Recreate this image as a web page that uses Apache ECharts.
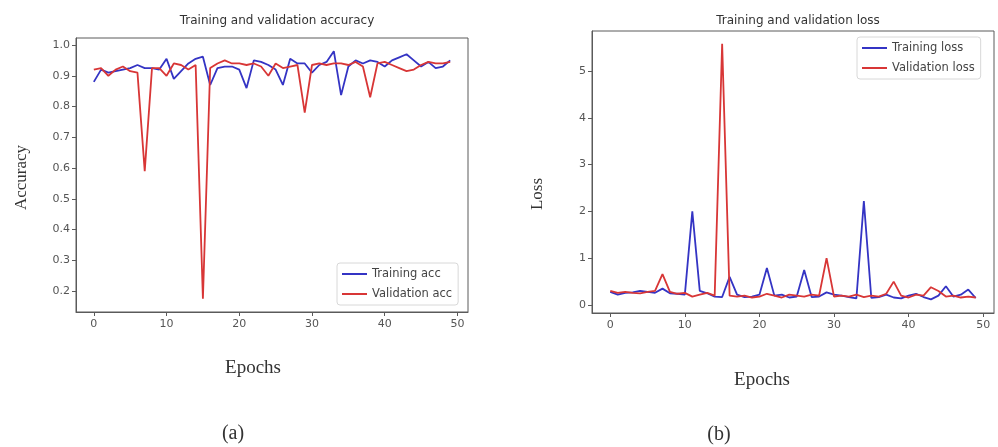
<!DOCTYPE html>
<html>
<head>
<meta charset="utf-8">
<script src="https://cdn.jsdelivr.net/npm/echarts@6/dist/echarts.min.js"></script>
<style>
  html, body { margin: 0; padding: 0; background: #fff; }
  #chart { width: 998px; height: 447px; }
</style>
</head>
<body>
<div id="chart"></div>
<script>
// epochs 0..49
const epochs = Array.from({ length: 50 }, (_, i) => i)

const trainAcc = [
  0.88, 0.92, 0.91, 0.915, 0.92, 0.925, 0.935, 0.925, 0.925, 0.92,
  0.955, 0.89, 0.915, 0.94, 0.955, 0.962, 0.87, 0.925, 0.93, 0.93,
  0.92, 0.86, 0.95, 0.945, 0.935, 0.92, 0.87, 0.955, 0.94, 0.94,
  0.91, 0.935, 0.945, 0.98, 0.837, 0.93, 0.95, 0.94, 0.95, 0.945,
  0.93, 0.95, 0.96, 0.97, 0.95, 0.93, 0.945, 0.925, 0.93, 0.95
]
const valAcc = [
  0.92, 0.925, 0.90, 0.92, 0.93, 0.915, 0.91, 0.59, 0.925, 0.925,
  0.90, 0.94, 0.935, 0.92, 0.935, 0.175, 0.925, 0.94, 0.95, 0.94,
  0.94, 0.935, 0.94, 0.93, 0.90, 0.94, 0.925, 0.93, 0.935, 0.78,
  0.935, 0.94, 0.935, 0.94, 0.94, 0.935, 0.945, 0.93, 0.83, 0.94,
  0.945, 0.935, 0.925, 0.915, 0.92, 0.935, 0.945, 0.94, 0.94, 0.945
]
const trainLoss = [
  0.28, 0.22, 0.26, 0.27, 0.30, 0.28, 0.26, 0.35, 0.25, 0.24,
  0.22, 2.0, 0.30, 0.25, 0.18, 0.17, 0.60, 0.22, 0.17, 0.18,
  0.22, 0.79, 0.20, 0.22, 0.16, 0.18, 0.75, 0.17, 0.18, 0.27,
  0.22, 0.20, 0.17, 0.14, 2.22, 0.15, 0.17, 0.22, 0.16, 0.14,
  0.20, 0.24, 0.17, 0.12, 0.20, 0.40, 0.18, 0.22, 0.33, 0.15
]
const valLoss = [
  0.30, 0.26, 0.28, 0.26, 0.25, 0.28, 0.30, 0.66, 0.28, 0.24,
  0.26, 0.18, 0.22, 0.26, 0.20, 5.58, 0.20, 0.18, 0.20, 0.16,
  0.18, 0.24, 0.20, 0.16, 0.22, 0.20, 0.18, 0.22, 0.20, 1.0,
  0.18, 0.20, 0.18, 0.22, 0.17, 0.20, 0.18, 0.24, 0.50, 0.20,
  0.16, 0.22, 0.20, 0.38, 0.30, 0.18, 0.20, 0.16, 0.18, 0.16
]

const xTicks = [0, 10, 20, 30, 40, 50]
const accTicks = [0.2, 0.3, 0.4, 0.5, 0.6, 0.7, 0.8, 0.9, 1.0]
const lossTicks = [0, 1, 2, 3, 4, 5]

const BLUE = '#3434c4'
const RED = '#d83636'
const FRAME = '#5a5a5a'
const SANS = 'DejaVu Sans'
const SERIF = 'Liberation Serif'

const pairs = (ys) => epochs.map((e, i) => [e, ys[i]])

function xAxisFor(gridIndex) {
  return {
    type: 'value', gridIndex, min: -2.45, max: 51.45,
    axisLine: { show: true, onZero: false, lineStyle: { color: FRAME } },
    axisTick: { show: true, length: 4, lineStyle: { color: FRAME }, customValues: xTicks },
    axisLabel: { customValues: xTicks, color: '#555', fontFamily: SANS, fontSize: 11, margin: 7 },
    splitLine: { show: false }
  }
}

function yAxisFor(gridIndex, min, max, ticks, fmt) {
  return {
    type: 'value', gridIndex, min, max,
    axisLine: { show: true, onZero: false, lineStyle: { color: FRAME } },
    axisTick: { show: true, length: 4, lineStyle: { color: FRAME }, customValues: ticks },
    axisLabel: { customValues: ticks, formatter: fmt, color: '#555', fontFamily: SANS, fontSize: 11, margin: 6 },
    splitLine: { show: false }
  }
}

function lineSeries(name, ys, color, idx) {
  return {
    name, type: 'line', data: pairs(ys), xAxisIndex: idx, yAxisIndex: idx,
    symbol: 'none', lineStyle: { width: 1.8, color }, itemStyle: { color },
    animation: false
  }
}

const legendBase = {
  orient: 'vertical', icon: 'rect', itemWidth: 25, itemHeight: 2, itemGap: 8,
  backgroundColor: '#fff', borderColor: '#d8d8d8', borderWidth: 1, borderRadius: 3,
  padding: [5, 6, 5, 5],
  textStyle: { fontFamily: SANS, fontSize: 11.5, color: '#444' }
}

const chart = echarts.init(document.getElementById('chart'), null, { renderer: 'canvas' })

chart.setOption({
  backgroundColor: '#fff',
  animation: false,
  title: [
    { text: 'Training and validation accuracy', left: 272, top: 10, textAlign: 'center',
      textStyle: { fontFamily: SANS, fontSize: 12, fontWeight: 'normal', color: '#333' } },
    { text: 'Training and validation loss', left: 793, top: 10, textAlign: 'center',
      textStyle: { fontFamily: SANS, fontSize: 12, fontWeight: 'normal', color: '#333' } },
    { text: 'Epochs', left: 248, top: 354, textAlign: 'center',
      textStyle: { fontFamily: SERIF, fontSize: 19, fontWeight: 'normal', color: '#333' } },
    { text: 'Epochs', left: 757, top: 366, textAlign: 'center',
      textStyle: { fontFamily: SERIF, fontSize: 19, fontWeight: 'normal', color: '#333' } },
    { text: '(a)', left: 228, top: 419, textAlign: 'center',
      textStyle: { fontFamily: SERIF, fontSize: 20, fontWeight: 'normal', color: '#333' } },
    { text: '(b)', left: 714, top: 420, textAlign: 'center',
      textStyle: { fontFamily: SERIF, fontSize: 20, fontWeight: 'normal', color: '#333' } }
  ],
  graphic: [
    { type: 'text', left: 13, top: 145, rotation: Math.PI / 2,
      style: { text: 'Accuracy', font: '17px "Liberation Serif"', fill: '#333' } },
    { type: 'text', left: 529, top: 178, rotation: Math.PI / 2,
      style: { text: 'Loss', font: '17px "Liberation Serif"', fill: '#333' } }
  ],
  grid: [
    { left: 76, top: 38, width: 392, height: 274, show: true, borderColor: FRAME, borderWidth: 1, containLabel: false },
    { left: 592, top: 31, width: 402, height: 282, show: true, borderColor: FRAME, borderWidth: 1, containLabel: false }
  ],
  xAxis: [xAxisFor(0), xAxisFor(1)],
  yAxis: [
    yAxisFor(0, 0.1317, 1.0228, accTicks, v => v.toFixed(1)),
    yAxisFor(1, -0.171, 5.855, lossTicks, v => String(Math.round(v)))
  ],
  legend: [
    Object.assign({}, legendBase, { data: ['Training acc', 'Validation acc'], left: 337, top: 263 }),
    Object.assign({}, legendBase, { data: ['Training loss', 'Validation loss'], left: 857, top: 37 })
  ],
  series: [
    lineSeries('Training acc', trainAcc, BLUE, 0),
    lineSeries('Validation acc', valAcc, RED, 0),
    lineSeries('Training loss', trainLoss, BLUE, 1),
    lineSeries('Validation loss', valLoss, RED, 1)
  ]
})

window.addEventListener('resize', () => chart.resize())
</script>
</body>
</html>
